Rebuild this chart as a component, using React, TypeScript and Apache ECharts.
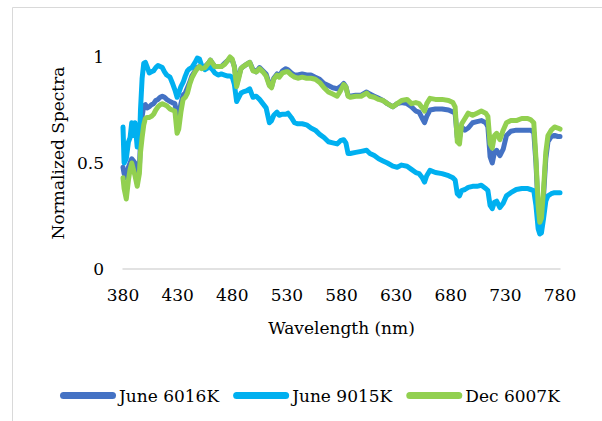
import React, { useEffect, useRef } from "react";
import * as echarts from "echarts";

const wavelengths = [
  380, 381, 383, 385, 386.5, 388, 389.5, 391, 393, 395, 396, 397.5, 399, 400.5, 402, 404, 406, 408, 410, 412,
  414, 416, 418, 420, 423, 425, 427.5, 429.5, 431, 433, 435, 437, 439, 441, 443, 446, 448, 450, 452, 455,
  458, 460, 462, 464, 467, 470, 473, 476, 478, 480, 482, 484, 486, 488, 490, 493, 496, 499, 502, 505,
  508, 511, 514, 516, 518, 521, 523, 526, 529, 531, 534, 537, 540, 544, 548, 552, 556, 560, 564, 568,
  572, 576, 579, 582, 584, 586, 588, 593, 598, 603, 606, 610, 614, 618, 622, 627, 631, 635, 640, 644,
  648, 651, 654, 656, 658, 661, 666, 672, 678, 682, 684, 686, 688, 690, 693, 696, 700, 704, 708, 712,
  714, 716, 718, 720, 722, 725, 728, 731, 735, 740, 745, 750, 753, 756, 758, 760, 761.5, 763, 765, 767,
  769, 772, 775, 778, 780,
];

const june6016K = [
  0.48, 0.45, 0.43, 0.48, 0.5, 0.52, 0.51, 0.5, 0.46, 0.48, 0.6, 0.72, 0.77, 0.775, 0.76, 0.765, 0.775, 0.78, 0.795, 0.8,
  0.81, 0.815, 0.81, 0.8, 0.79, 0.785, 0.78, 0.73, 0.72, 0.78, 0.82, 0.83, 0.855, 0.88, 0.91, 0.935, 0.95, 0.955, 0.95, 0.955,
  0.97, 0.985, 0.97, 0.955, 0.955, 0.955, 0.97, 0.985, 0.995, 0.985, 0.955, 0.87, 0.91, 0.945, 0.955, 0.965, 0.975, 0.94, 0.93, 0.95,
  0.935, 0.92, 0.87, 0.86, 0.9, 0.92, 0.91, 0.935, 0.945, 0.94, 0.925, 0.915, 0.915, 0.92, 0.915, 0.915, 0.905, 0.895, 0.875, 0.865,
  0.855, 0.85, 0.86, 0.875, 0.86, 0.82, 0.815, 0.82, 0.82, 0.835, 0.825, 0.815, 0.805, 0.795, 0.78, 0.765, 0.78, 0.785, 0.78, 0.765,
  0.745, 0.74, 0.71, 0.69, 0.72, 0.75, 0.755, 0.755, 0.75, 0.74, 0.735, 0.62, 0.62, 0.67, 0.655, 0.665, 0.69, 0.695, 0.7, 0.69,
  0.67, 0.53, 0.5, 0.55, 0.56, 0.535, 0.565, 0.63, 0.65, 0.655, 0.655, 0.655, 0.655, 0.645, 0.5, 0.28, 0.22, 0.23, 0.35, 0.52,
  0.6, 0.625, 0.63, 0.625, 0.625,
];

const june9015K = [
  0.67, 0.5, 0.52, 0.6, 0.62, 0.69, 0.63, 0.69, 0.575, 0.58, 0.75, 0.9, 0.97, 0.975, 0.955, 0.925, 0.93, 0.935, 0.95, 0.96,
  0.955, 0.95, 0.93, 0.915, 0.905, 0.88, 0.845, 0.81, 0.83, 0.86, 0.88, 0.91, 0.935, 0.945, 0.95, 0.975, 0.995, 0.99, 0.96, 0.94,
  0.95, 0.95, 0.94, 0.925, 0.915, 0.92, 0.915, 0.91, 0.91, 0.905, 0.87, 0.79, 0.81, 0.83, 0.835, 0.84, 0.85, 0.81, 0.815, 0.8,
  0.78, 0.76, 0.69, 0.7, 0.725, 0.74, 0.725, 0.73, 0.73, 0.735, 0.715, 0.69, 0.685, 0.685, 0.68, 0.665, 0.655, 0.635, 0.62, 0.6,
  0.595, 0.59, 0.605, 0.61, 0.595, 0.545, 0.545, 0.55, 0.555, 0.56, 0.545, 0.535, 0.52, 0.51, 0.5, 0.485, 0.48, 0.49, 0.485, 0.47,
  0.455, 0.45, 0.43, 0.41, 0.44, 0.465, 0.455, 0.45, 0.44, 0.43, 0.42, 0.355, 0.345, 0.37, 0.375, 0.385, 0.39, 0.39, 0.395, 0.38,
  0.37, 0.3, 0.285, 0.315, 0.32, 0.29, 0.31, 0.345, 0.36, 0.375, 0.38, 0.38, 0.375, 0.37, 0.3, 0.19, 0.165, 0.17, 0.24, 0.32,
  0.345, 0.355, 0.36, 0.36, 0.36,
];

const dec6007K = [
  0.43, 0.38, 0.33, 0.42, 0.47, 0.5, 0.47, 0.44, 0.39, 0.45, 0.55, 0.62, 0.68, 0.71, 0.715, 0.715, 0.72, 0.73, 0.75, 0.765,
  0.775, 0.78, 0.775, 0.77, 0.755, 0.75, 0.745, 0.64, 0.66, 0.74, 0.8, 0.81, 0.83, 0.87, 0.9, 0.93, 0.945, 0.955, 0.945, 0.95,
  0.97, 0.985, 0.97, 0.955, 0.955, 0.955, 0.965, 0.985, 1.0, 0.99, 0.95, 0.86, 0.9, 0.945, 0.955, 0.965, 0.975, 0.935, 0.93, 0.945,
  0.93, 0.91, 0.865, 0.855, 0.895, 0.915, 0.905, 0.925, 0.93, 0.93, 0.915, 0.905, 0.9, 0.905, 0.9, 0.9, 0.895, 0.88, 0.855, 0.835,
  0.825, 0.815, 0.84, 0.87, 0.86, 0.815, 0.81, 0.815, 0.815, 0.83, 0.815, 0.81, 0.8, 0.795, 0.78, 0.765, 0.78, 0.795, 0.8, 0.78,
  0.785, 0.78, 0.76, 0.745, 0.78, 0.805, 0.8, 0.8, 0.795, 0.785, 0.765, 0.6, 0.59, 0.685, 0.71, 0.735, 0.725, 0.735, 0.745, 0.735,
  0.72, 0.59, 0.57, 0.63, 0.64, 0.61, 0.655, 0.69, 0.7, 0.7, 0.71, 0.71, 0.705, 0.69, 0.52, 0.3, 0.22, 0.24, 0.38, 0.55,
  0.63, 0.655, 0.67, 0.665, 0.66,
];

const seriesNames = ["June 6016K", "June 9015K", "Dec 6007K"];
const seriesColors = ["#4472C4", "#00B0F0", "#92D050"];
const xTicks = { min: 380, max: 780, interval: 50 };
const yTicks = { min: 0, max: 1, interval: 0.5 };

const FONT = "DejaVu Serif";
const FS = 17;

export default function App() {
  const ref = useRef<HTMLDivElement>(null);

  useEffect(() => {
    if (!ref.current) return;
    const chart = echarts.init(ref.current, undefined, { renderer: "svg" });
    const allValues = [june6016K, june9015K, dec6007K];
    chart.setOption({
      animation: false,
      backgroundColor: "#ffffff",
      graphic: [
        {
          type: "rect",
          shape: { x: 12.5, y: 7.5, width: 700, height: 600 },
          style: { fill: "none", stroke: "#d9d9d9", lineWidth: 1 },
          silent: true,
        },
      ],
      grid: { left: 123, right: 42, top: 57, bottom: 152 },
      legend: {
        left: 55,
        top: 382,
        itemWidth: 56,
        itemHeight: 7,
        itemGap: 14,
        icon: "path://M3.5,0 H52.5 A3.5,3.5 0 0 1 52.5,7 H3.5 A3.5,3.5 0 0 1 3.5,0 Z",
        textStyle: { fontFamily: FONT, fontSize: FS, color: "#000", padding: [0, 0, 0, -2] },
        data: seriesNames,
      },
      xAxis: {
        type: "value",
        min: xTicks.min,
        max: xTicks.max,
        interval: xTicks.interval,
        name: "Wavelength (nm)",
        nameLocation: "middle",
        nameGap: 50,
        nameTextStyle: { fontFamily: FONT, fontSize: FS, color: "#000" },
        axisLine: { show: true, lineStyle: { color: "#d9d9d9", width: 1.5 } },
        axisTick: { show: false },
        splitLine: { show: false },
        axisLabel: { fontFamily: FONT, fontSize: FS, color: "#000", margin: 17 },
      },
      yAxis: {
        type: "value",
        min: yTicks.min,
        max: yTicks.max,
        interval: yTicks.interval,
        name: "Normalized Spectra",
        nameLocation: "middle",
        nameGap: 56,
        nameTextStyle: { fontFamily: FONT, fontSize: FS, color: "#000", padding: [0, 0, 0, 20] },
        axisLine: { show: false },
        axisTick: { show: false },
        splitLine: { show: false },
        axisLabel: { fontFamily: FONT, fontSize: FS, color: "#000", margin: 19 },
      },
      series: seriesNames.map((name, i) => ({
        name,
        type: "line",
        data: wavelengths.map((w, j) => [w, allValues[i][j]]),
        showSymbol: false,
        symbol: "none",
        clip: false,
        lineStyle: { color: seriesColors[i], width: 5, join: "round", cap: "round" },
        itemStyle: { color: seriesColors[i] },
        z: 2 + i,
      })),
    });
    return () => chart.dispose();
  }, []);

  return (
    <div
      ref={ref}
      style={{ position: "fixed", left: 0, top: 0, width: 602, height: 421 }}
    />
  );
}
